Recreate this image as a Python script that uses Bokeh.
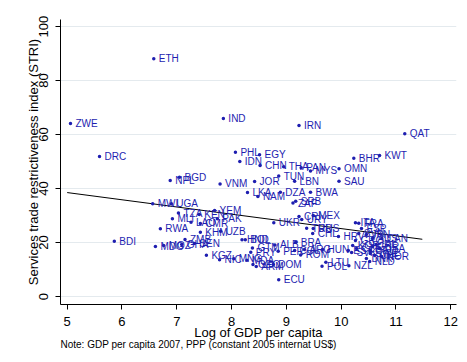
from bokeh.plotting import figure
from bokeh.models import Range1d, FixedTicker, Title, ColumnDataSource
from bokeh.embed import file_html
from bokeh.resources import INLINE
from bokeh.core.properties import value

countries = ["ETH", "ZWE", "DRC", "IND", "IRN", "QAT", "PHL", "EGY", "IDN", "CHN",
             "THA", "PAN", "MYS", "OMN", "BHR", "KWT", "SAU", "TUN", "JOR", "LBN",
             "VNM", "LKA", "NAM", "DZA", "BWA", "ZAF", "SRB", "CRI", "MEX", "URY",
             "UKR", "TUR", "RUS", "CHL", "HRV", "ITA", "FRA", "ESP", "SVN", "JPN",
             "AUS", "CAN", "GRC", "KOR", "IRL", "GBR", "CZE", "USA", "EST", "DEU",
             "SVK", "SWE", "CHE", "NOR", "DNK", "NLD", "NZL", "POL", "LTU", "HUN",
             "ARG", "ROM", "COL", "BRA", "PER", "ALB", "ECU", "DOM", "GEO", "ARM",
             "GTM", "PRY", "HND", "BOL", "MNG", "MDA", "NIC", "KGZ", "MWI", "UGA",
             "TZA", "KEN", "MLI", "LAO", "CMR", "YEM", "PAK", "RWA", "KHM", "UZB",
             "BDI", "ZMB", "MDG", "MOZ", "GHA", "SEN", "NPL", "BGD"]
log_gdp = [6.58, 5.06, 5.59, 7.85, 9.23, 11.16, 8.07, 8.51, 8.15, 8.52,
           8.95, 9.27, 9.44, 9.96, 10.23, 10.70, 9.96, 8.86, 8.42, 9.15,
           7.79, 8.29, 8.48, 8.89, 9.44, 9.12, 9.17, 9.23, 9.49, 9.28,
           8.77, 9.37, 9.49, 9.48, 9.95, 10.26, 10.32, 10.37, 10.32, 10.46,
           10.57, 10.74, 10.26, 10.21, 10.64, 10.57, 10.28, 10.70, 10.13, 10.53,
           10.19, 10.53, 10.61, 10.74, 10.46, 10.52, 10.14, 9.65, 9.72, 9.66,
           9.33, 9.26, 9.15, 9.17, 8.85, 8.79, 8.86, 8.76, 8.39, 8.45,
           8.38, 8.35, 8.19, 8.25, 8.04, 8.28, 7.78, 7.54, 6.56, 6.90,
           7.03, 7.41, 6.92, 7.26, 7.43, 7.69, 7.74, 6.70, 7.43, 7.80,
           5.86, 7.15, 6.61, 6.76, 7.09, 7.32, 6.88, 7.05]
stri = [88.1, 64.1, 51.9, 65.9, 63.3, 60.3, 53.4, 52.5, 50.0, 48.5,
        48.1, 47.7, 46.5, 47.3, 51.2, 52.2, 42.7, 44.6, 42.6, 42.7,
        41.7, 38.5, 37.0, 38.6, 38.6, 34.6, 35.3, 29.6, 30.0, 28.5,
        27.3, 25.3, 25.2, 23.3, 22.2, 27.3, 27.1, 25.2, 23.3, 23.0,
        21.5, 21.5, 20.7, 18.9, 19.3, 18.5, 17.8, 17.8, 17.0, 17.0,
        16.3, 15.9, 15.2, 14.8, 14.1, 13.0, 11.4, 11.2, 12.7, 17.4,
        17.4, 15.4, 17.0, 20.1, 16.8, 19.1, 6.2, 11.9, 11.9, 11.1,
        18.0, 16.4, 21.0, 21.0, 14.0, 13.4, 13.6, 15.3, 34.4, 34.4,
        30.9, 30.4, 28.8, 27.5, 27.0, 31.9, 28.8, 25.1, 23.8, 24.2,
        20.5, 21.1, 18.5, 18.9, 19.3, 19.6, 43.0, 44.2]

fit_x = [5.0, 11.48]
fit_y = [38.5, 21.2]

x_ticks = [5, 6, 7, 8, 9, 10, 11, 12]
y_ticks = [0, 20, 40, 60, 80, 100]
x_title = "Log of GDP per capita"
y_title = "Services trade restrictiveness index (STRI)"
note = "Note: GDP per capita 2007, PPP (constant 2005 internat US$)"

FONT = "Liberation Sans"
BLUE = "#1e1eb0"

src = ColumnDataSource(dict(x=log_gdp, y=stri, label=countries))

p = figure(width=459, height=354, title=None,
           x_range=Range1d(4.878, 12.104), y_range=Range1d(-2.96, 102.6),
           output_backend="svg", toolbar_location=None,
           min_border_left=60, min_border_right=3, min_border_top=19,
           min_border_bottom=50)
p.outline_line_color = None
p.background_fill_color = "white"
p.border_fill_color = "white"

p.xgrid.grid_line_color = None
p.ygrid.grid_line_color = "#e4eaee"
p.ygrid.grid_line_width = 1
p.xaxis.ticker = FixedTicker(ticks=x_ticks)
p.yaxis.ticker = FixedTicker(ticks=y_ticks)

for ax in (p.xaxis[0], p.yaxis[0]):
    ax.axis_line_color = "black"
    ax.major_tick_line_color = "black"
    ax.major_tick_out = 5
    ax.major_tick_in = 0
    ax.minor_tick_line_color = None
    ax.major_label_text_font = FONT
    ax.major_label_text_font_size = "13px"
    ax.major_label_text_color = "black"
    ax.axis_label_text_font = FONT
    ax.axis_label_text_font_size = "13px"
    ax.axis_label_text_font_style = "normal"
    ax.axis_label_text_color = "black"

p.xaxis.axis_label = x_title
p.yaxis.axis_label = y_title
p.xaxis.major_label_standoff = 7
p.xaxis.axis_label_standoff = -4
p.yaxis.major_label_orientation = "vertical"
p.yaxis.major_label_standoff = 7
p.yaxis.axis_label_standoff = -4

p.line(fit_x, fit_y, line_color="black", line_width=1)
p.scatter("x", "y", source=src, size=3.5, fill_color=BLUE, line_color=None)
p.text("x", "y", text="label", source=src, x_offset=5,
       text_baseline="middle", text_align="left",
       text_font=value(FONT), text_font_size="10px", text_color=BLUE)

p.add_layout(Title(text=note, align="left", text_font=FONT,
                   text_font_size="10px", text_font_style="normal",
                   text_color="black", standoff=-12), "below")

open("out.html", "w").write(file_html(p, INLINE))
